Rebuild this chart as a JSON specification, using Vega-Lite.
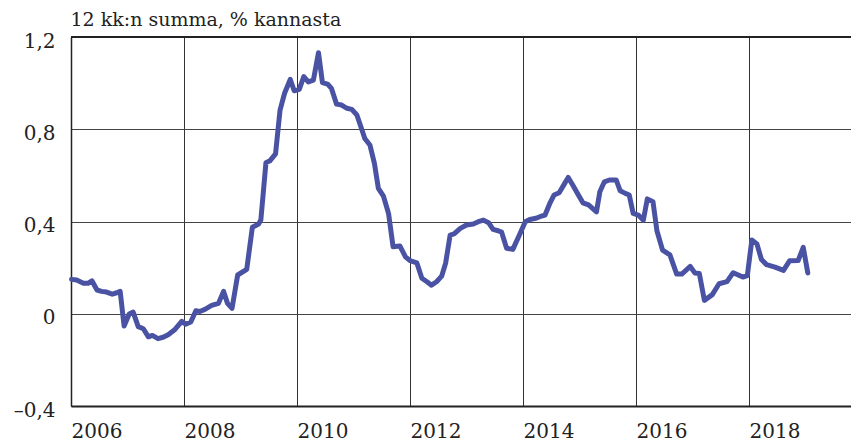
{
  "$schema": "https://vega.github.io/schema/vega-lite/v6.json",
  "width": 780,
  "height": 369,
  "autosize": {"type": "none"},
  "padding": {"left": 71, "top": 37, "right": 0, "bottom": 41},
  "background": "white",
  "config": {"view": {"stroke": null}, "font": "DejaVu Serif"},
  "data": {"values": [
    {"t": 2006.01, "v": 0.149}, {"t": 2006.10, "v": 0.146}, {"t": 2006.22, "v": 0.132}, {"t": 2006.30, "v": 0.132},
    {"t": 2006.37, "v": 0.143}, {"t": 2006.46, "v": 0.103}, {"t": 2006.54, "v": 0.097}, {"t": 2006.63, "v": 0.094},
    {"t": 2006.73, "v": 0.085}, {"t": 2006.81, "v": 0.091}, {"t": 2006.87, "v": 0.097}, {"t": 2006.94, "v": -0.053},
    {"t": 2007.03, "v": -0.001}, {"t": 2007.10, "v": 0.007}, {"t": 2007.19, "v": -0.056}, {"t": 2007.28, "v": -0.065},
    {"t": 2007.37, "v": -0.100}, {"t": 2007.44, "v": -0.094}, {"t": 2007.54, "v": -0.108}, {"t": 2007.63, "v": -0.102},
    {"t": 2007.72, "v": -0.091}, {"t": 2007.84, "v": -0.068}, {"t": 2007.96, "v": -0.033}, {"t": 2008.03, "v": -0.045},
    {"t": 2008.12, "v": -0.036}, {"t": 2008.21, "v": 0.013}, {"t": 2008.28, "v": 0.010}, {"t": 2008.37, "v": 0.019},
    {"t": 2008.49, "v": 0.036}, {"t": 2008.61, "v": 0.045}, {"t": 2008.70, "v": 0.097}, {"t": 2008.77, "v": 0.045},
    {"t": 2008.85, "v": 0.023}, {"t": 2008.95, "v": 0.168}, {"t": 2009.11, "v": 0.192}, {"t": 2009.21, "v": 0.375},
    {"t": 2009.32, "v": 0.389}, {"t": 2009.36, "v": 0.406}, {"t": 2009.45, "v": 0.655}, {"t": 2009.52, "v": 0.663},
    {"t": 2009.62, "v": 0.693}, {"t": 2009.70, "v": 0.883}, {"t": 2009.78, "v": 0.956}, {"t": 2009.88, "v": 1.016},
    {"t": 2009.95, "v": 0.967}, {"t": 2010.04, "v": 0.973}, {"t": 2010.12, "v": 1.028}, {"t": 2010.20, "v": 1.005},
    {"t": 2010.29, "v": 1.013}, {"t": 2010.38, "v": 1.132}, {"t": 2010.45, "v": 1.002}, {"t": 2010.54, "v": 0.996},
    {"t": 2010.61, "v": 0.977}, {"t": 2010.70, "v": 0.909}, {"t": 2010.79, "v": 0.905}, {"t": 2010.88, "v": 0.891},
    {"t": 2010.97, "v": 0.886}, {"t": 2011.06, "v": 0.862}, {"t": 2011.15, "v": 0.797}, {"t": 2011.20, "v": 0.760},
    {"t": 2011.29, "v": 0.732}, {"t": 2011.37, "v": 0.652}, {"t": 2011.44, "v": 0.544}, {"t": 2011.53, "v": 0.510},
    {"t": 2011.62, "v": 0.435}, {"t": 2011.70, "v": 0.291}, {"t": 2011.82, "v": 0.294}, {"t": 2011.92, "v": 0.247},
    {"t": 2012.00, "v": 0.230}, {"t": 2012.12, "v": 0.221}, {"t": 2012.21, "v": 0.154}, {"t": 2012.30, "v": 0.139},
    {"t": 2012.38, "v": 0.124}, {"t": 2012.47, "v": 0.139}, {"t": 2012.56, "v": 0.163}, {"t": 2012.63, "v": 0.219},
    {"t": 2012.71, "v": 0.341}, {"t": 2012.78, "v": 0.346}, {"t": 2012.89, "v": 0.370}, {"t": 2013.00, "v": 0.385},
    {"t": 2013.12, "v": 0.389}, {"t": 2013.21, "v": 0.399}, {"t": 2013.30, "v": 0.406}, {"t": 2013.39, "v": 0.395},
    {"t": 2013.47, "v": 0.366}, {"t": 2013.56, "v": 0.360}, {"t": 2013.62, "v": 0.354}, {"t": 2013.71, "v": 0.284},
    {"t": 2013.82, "v": 0.279}, {"t": 2013.95, "v": 0.349}, {"t": 2014.04, "v": 0.399}, {"t": 2014.12, "v": 0.409},
    {"t": 2014.23, "v": 0.414}, {"t": 2014.33, "v": 0.424}, {"t": 2014.39, "v": 0.428}, {"t": 2014.47, "v": 0.476},
    {"t": 2014.55, "v": 0.515}, {"t": 2014.64, "v": 0.525}, {"t": 2014.73, "v": 0.562}, {"t": 2014.80, "v": 0.591},
    {"t": 2014.89, "v": 0.554}, {"t": 2014.98, "v": 0.515}, {"t": 2015.06, "v": 0.481}, {"t": 2015.16, "v": 0.472},
    {"t": 2015.23, "v": 0.457}, {"t": 2015.30, "v": 0.442}, {"t": 2015.36, "v": 0.529}, {"t": 2015.44, "v": 0.572},
    {"t": 2015.53, "v": 0.580}, {"t": 2015.65, "v": 0.580}, {"t": 2015.72, "v": 0.533}, {"t": 2015.81, "v": 0.522},
    {"t": 2015.88, "v": 0.515}, {"t": 2015.95, "v": 0.435}, {"t": 2016.04, "v": 0.428}, {"t": 2016.13, "v": 0.406},
    {"t": 2016.20, "v": 0.498}, {"t": 2016.30, "v": 0.486}, {"t": 2016.37, "v": 0.360}, {"t": 2016.47, "v": 0.276},
    {"t": 2016.60, "v": 0.255}, {"t": 2016.72, "v": 0.172}, {"t": 2016.81, "v": 0.172}, {"t": 2016.96, "v": 0.205},
    {"t": 2017.04, "v": 0.177}, {"t": 2017.12, "v": 0.175}, {"t": 2017.21, "v": 0.058}, {"t": 2017.35, "v": 0.083},
    {"t": 2017.47, "v": 0.130}, {"t": 2017.61, "v": 0.139}, {"t": 2017.72, "v": 0.178}, {"t": 2017.89, "v": 0.159},
    {"t": 2017.97, "v": 0.165}, {"t": 2018.05, "v": 0.320}, {"t": 2018.14, "v": 0.303}, {"t": 2018.22, "v": 0.235},
    {"t": 2018.31, "v": 0.213}, {"t": 2018.46, "v": 0.202}, {"t": 2018.61, "v": 0.188}, {"t": 2018.72, "v": 0.230},
    {"t": 2018.87, "v": 0.231}, {"t": 2018.96, "v": 0.288}, {"t": 2019.04, "v": 0.177}
  ]},
  "layer": [
    {
      "mark": {"type": "line", "color": "#4a53a3", "strokeWidth": 5, "strokeJoin": "round", "strokeCap": "round"},
      "encoding": {
        "x": {
          "field": "t", "type": "quantitative",
          "scale": {"domain": [2006, 2019.805], "nice": false, "zero": false},
          "axis": {
            "values": [2006, 2008, 2010, 2012, 2014, 2016, 2018],
            "format": "d", "title": null, "grid": true, "gridColor": "#333", "gridWidth": 1,
            "ticks": false, "domainColor": "#222", "domainWidth": 2,
            "labelAlign": "left", "labelBaseline": "top", "labelPadding": 15, "labelFlush": false,
            "labelFontSize": 20, "labelColor": "#222", "labelFont": "DejaVu Serif"
          }
        },
        "y": {
          "field": "v", "type": "quantitative",
          "scale": {"domain": [-0.4, 1.2], "nice": false, "zero": false},
          "axis": {
            "values": [-0.4, 0, 0.4, 0.8, 1.2],
            "labelExpr": "datum.value == 0 ? '0' : (datum.value < 0 ? '–' : '') + replace(format(abs(datum.value), '.1f'), '.', ',')",
            "grid": true, "gridColor": "#444", "gridWidth": 1,
            "ticks": false, "domainColor": "#222", "domainWidth": 1.5,
            "labelPadding": 16, "labelFontSize": 20, "labelBaseline": "middle", "labelOffset": 4,
            "labelColor": "#222", "labelFont": "DejaVu Serif", "labelFlush": false,
            "title": "12 kk:n summa, % kannasta", "titleAngle": 0, "titleX": -1, "titleY": -12,
            "titleAlign": "left", "titleBaseline": "alphabetic", "titleFontSize": 19,
            "titleFontWeight": "normal", "titleFont": "DejaVu Serif", "titleColor": "#222"
          }
        }
      }
    },
    {
      "mark": {"type": "rule", "color": "#222", "strokeWidth": 2},
      "encoding": {"y": {"datum": 1.2, "type": "quantitative"}}
    }
  ]
}
